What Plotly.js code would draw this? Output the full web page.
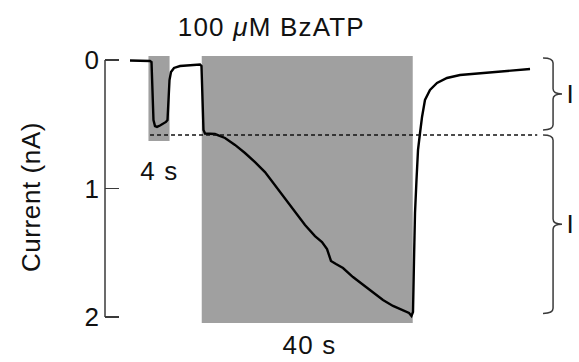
<!DOCTYPE html>
<html>
<head>
<meta charset="utf-8">
<script src="https://cdn.plot.ly/plotly-3.0.1.min.js"></script>
<style>
  html, body { margin: 0; padding: 0; background: #ffffff; }
  #chart { width: 579px; height: 362px; }
  /* slightly open lettering for the figure labels */
  #chart .annotation-text { letter-spacing: 1.2px; }
  #chart .ytitle { letter-spacing: 0.6px; }
</style>
</head>
<body>
<div id="chart"></div>
<script>
// Whole-cell current trace (time in s, inward current in nA, plotted downward)
const time = [0, 3.79, 4.08, 4.27, 4.45, 4.74, 5.12, 5.69, 6.26, 6.82, 7.11, 7.30, 7.49, 7.77,
  8.34, 9.48, 11.37, 13.27, 13.55, 13.74, 13.93, 14.22, 15.17, 16.11, 18.01, 19.91, 21.80,
  23.70, 25.59, 27.49, 29.38, 31.28, 33.18, 35.07, 36.40, 37.35, 37.73, 38.10, 39.05, 40.38,
  42.27, 44.17, 46.07, 47.96, 49.86, 51.75, 52.89, 53.36, 53.65, 53.84, 54.03, 54.31, 54.60,
  54.98, 55.36, 55.92, 56.87, 58.20, 60.09, 62.56, 66.92, 71.47, 75.83];
const current = [0.004, 0.008, 0.016, 0.311, 0.467, 0.514, 0.521, 0.510, 0.498, 0.482, 0.467,
  0.311, 0.156, 0.093, 0.062, 0.047, 0.043, 0.035, 0.047, 0.389, 0.545, 0.572, 0.576, 0.576,
  0.607, 0.661, 0.724, 0.794, 0.872, 0.973, 1.074, 1.175, 1.284, 1.370, 1.416, 1.471, 1.525,
  1.564, 1.588, 1.619, 1.689, 1.751, 1.813, 1.868, 1.914, 1.946, 1.969, 1.992, 1.961, 1.556,
  1.191, 0.934, 0.700, 0.568, 0.444, 0.311, 0.233, 0.179, 0.140, 0.117, 0.101, 0.086, 0.070];

// Agonist applications: onset (s) and duration (s)
const pulseStart = [3.5, 13.6];
const pulseDuration = [4, 40];
const pulseLabels = ['4 s', '40 s'];
const agonistLabel = '100 <i>\u03bc</i>M BzATP';

// Reference level of the initial current and the axis ticks
const initialLevel = 0.584;
const tickValues = [0, 1, 2];
const tickLabels = ['0', '1', '2'];
const componentLabels = ['I', 'I'];

const FONT = '"Liberation Sans", Arial, Helvetica, sans-serif';
const INK = '#111111';
const AXIS = '#3a3a3a';
const SHADE = '#a0a0a0';

const peakCurrent = Math.max(...current);

// Shaded application periods
const boxBottoms = [0.63, 2.047];
const shapes = pulseStart.map((t0, i) => ({
  type: 'rect', xref: 'x', yref: 'y', layer: 'below',
  x0: t0, x1: t0 + pulseDuration[i], y0: -0.031, y1: boxBottoms[i],
  fillcolor: SHADE, line: { width: 0 }
}));

// Dotted level of the initial current
shapes.push({
  type: 'line', xref: 'x', yref: 'y', layer: 'above',
  x0: 3.8, x1: 77.2, y0: initialLevel, y1: initialLevel,
  line: { color: INK, width: 1.5, dash: '4px,3px' }
});

// Y axis line running from the 0 tick to the 2 tick
shapes.push({
  type: 'line', xref: 'paper', yref: 'y',
  x0: 0, x1: 0, y0: tickValues[0], y1: tickValues[tickValues.length - 1],
  line: { color: AXIS, width: 1.5 }
});

// Curly braces marking the two current components
function brace(top, bottom, xHook, xStem, xTip, bend) {
  const mid = (top + bottom) / 2;
  return 'M ' + xHook + ',' + top +
    ' Q ' + xStem + ',' + top + ' ' + xStem + ',' + (top + bend) +
    ' L ' + xStem + ',' + (mid - bend) +
    ' Q ' + xStem + ',' + mid + ' ' + xTip + ',' + mid +
    ' Q ' + xStem + ',' + mid + ' ' + xStem + ',' + (mid + bend) +
    ' L ' + xStem + ',' + (bottom - bend) +
    ' Q ' + xStem + ',' + bottom + ' ' + xHook + ',' + bottom;
}
const braceSpans = [[-0.016, initialLevel - 0.04], [initialLevel, peakCurrent - 0.02]];
braceSpans.forEach(([a, b]) => {
  shapes.push({
    type: 'path', xref: 'x', yref: 'y', layer: 'above',
    path: brace(a, b, 78.3, 80.2, 81.9, 0.04),
    line: { color: AXIS, width: 1.5 }
  });
});

// Text labels; the ones above and below the plot area use paper heights
const annotations = [
  { text: agonistLabel, x: 26.9, yref: 'paper', y: 1.086 },
  { text: pulseLabels[0], x: pulseStart[0] + pulseDuration[0] / 2, y: 0.864 },
  { text: pulseLabels[1], x: 34.1, yref: 'paper', y: -0.012 },
  { text: componentLabels[0], x: 83.6, y: (braceSpans[0][0] + braceSpans[0][1]) / 2 },
  { text: componentLabels[1], x: 83.6, y: (braceSpans[1][0] + braceSpans[1][1]) / 2 }
].map(a => Object.assign({
  xref: 'x', yref: 'y', showarrow: false, xanchor: 'center', yanchor: 'middle',
  font: { family: FONT, size: 26, color: INK }
}, a));

const trace = {
  x: time, y: current, type: 'scatter', mode: 'lines',
  line: { color: '#000000', width: 2.4 },
  hoverinfo: 'skip'
};

const layout = {
  width: 579, height: 362,
  margin: { l: 105, r: 0, t: 52, b: 20 },
  paper_bgcolor: '#ffffff', plot_bgcolor: 'rgba(0,0,0,0)',
  showlegend: false,
  font: { family: FONT, size: 25, color: INK },
  xaxis: {
    range: [-4.739, 85.118], visible: false, fixedrange: true
  },
  yaxis: {
    range: [2.19455, -0.06226],
    tickmode: 'array', tickvals: tickValues, ticktext: tickLabels,
    ticks: 'inside', ticklen: 14, tickwidth: 1.5, tickcolor: AXIS,
    ticklabelstandoff: 5,
    showline: false, zeroline: false, showgrid: false,
    tickfont: { family: FONT, size: 26, color: INK },
    title: { text: 'Current (nA)', font: { family: FONT, size: 26, color: INK }, standoff: 36 },
    fixedrange: true
  },
  shapes: shapes,
  annotations: annotations
};

Plotly.newPlot('chart', [trace], layout, { displayModeBar: false, staticPlot: true });
</script>
</body>
</html>
